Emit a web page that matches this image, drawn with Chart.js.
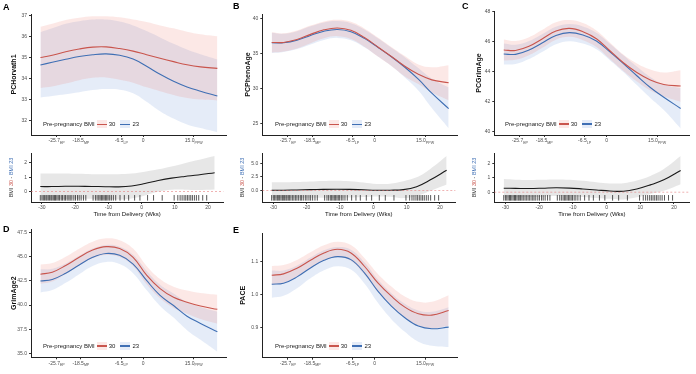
<!DOCTYPE html>
<html lang="en">
<head>
<meta charset="UTF-8" />
<title>Epigenetic age trajectories by pre-pregnancy BMI</title>
<script src="https://cdn.jsdelivr.net/npm/chart.js"></script>
<style>
  body { margin: 0; background: #fff; font-family: "Liberation Sans", Arial, sans-serif; }
  #fig { position: relative; width: 696px; height: 374px; overflow: hidden; }
  canvas { position: absolute; }
  .tag { position: absolute; font-weight: bold; font-size: 9px; line-height: 10px; color: #000; z-index: 3; }
  .legend { position: absolute; height: 8px; font-size: 6px; color: #222; display: flex; align-items: center; white-space: nowrap; z-index: 3; }
  .key { display: inline-block; width: 10px; height: 8px; position: relative; margin: 0 2px 0 2px; }
  .key::after { content: ''; position: absolute; left: 0; right: 0; top: 3.4px; height: 1.2px; background: currentColor; }
</style>
</head>
<body>
<div id="fig">
  <canvas id="cA" width="228" height="148" style="left:0;top:0"></canvas>
  <canvas id="cB" width="230" height="148" style="left:230px;top:0"></canvas>
  <canvas id="cC" width="236" height="148" style="left:460px;top:0"></canvas>
  <canvas id="dA" width="228" height="74" style="left:0;top:148px"></canvas>
  <canvas id="dB" width="230" height="74" style="left:230px;top:148px"></canvas>
  <canvas id="dC" width="236" height="74" style="left:460px;top:148px"></canvas>
  <canvas id="cD" width="228" height="159" style="left:0;top:215px"></canvas>
  <canvas id="cE" width="230" height="159" style="left:230px;top:215px"></canvas>
  <div class="tag" style="left:3px;top:2px">A</div>
  <div class="tag" style="left:233px;top:1px">B</div>
  <div class="tag" style="left:462px;top:1px">C</div>
  <div class="tag" style="left:3px;top:224px">D</div>
  <div class="tag" style="left:233px;top:225px">E</div>
</div>

<script>
// weeks from delivery where the fitted curves are read
const weeks = [-30.5, -27, -23, -19, -15, -11, -7, -3, 1, 5, 9, 13, 17, 22];
const xMin = -33.3, xMax = 24.6;

// pregnancy stage ticks on the upper panels
const stageTicks = [-25.7, -18.5, -6.5, 0, 15.0];
const stageLabels = ['-25.7', '-18.5', '-6.5', '0', '15.0'];
const stageSubs = ['EP', 'MP', 'LP', '', 'PPW'];
const weekTicks = [-30, -20, -10, 0, 10, 20];

// sample times (rug)
const rugWeeks = [-30.5, -30, -29.6, -29.2, -28.8, -28.5, -28.1, -27.7, -27.3, -27, -26.6, -26.2, -25.9, -25.5,
  -25.1, -24.7, -24.2, -23.8, -23.3, -22.9, -22.4, -21.9, -21.5, -21, -20.4, -19.9, -19.3, -18.8, -18.2, -17.5,
  -16.8, -14.6, -13.9, -13.4, -12.9, -12.5, -12.1, -11.7, -11.3, -10.9, -10.5, -10.1, -9.6, -9.1, -8.5, -7.8,
  -6.5, -5.2, -3.9, -2.1, -0.5, 1.8, 3.6, 6.2, 9.8, 10.9, 11.6, 12.2, 12.8, 13.3, 13.8, 14.3, 14.8, 15.3,
  15.9, 16.5, 17.2, 18.4, 19.6];

// A: PCHorvath1
const horTicks = [32, 33, 34, 35, 36, 37];
const hor30   = [35.00, 35.10, 35.27, 35.40, 35.49, 35.50, 35.42, 35.30, 35.13, 34.96, 34.80, 34.65, 34.55, 34.48];
const hor30Hi = [36.45, 36.60, 36.78, 36.88, 36.95, 36.95, 36.90, 36.80, 36.68, 36.52, 36.38, 36.22, 36.10, 36.00];
const hor30Lo = [33.55, 33.62, 33.76, 33.92, 34.03, 34.05, 33.94, 33.80, 33.58, 33.40, 33.22, 33.08, 33.00, 32.96];
const hor23   = [34.64, 34.77, 34.91, 35.04, 35.13, 35.17, 35.10, 34.92, 34.58, 34.20, 33.87, 33.60, 33.40, 33.17];
const hor23Hi = [36.20, 36.38, 36.60, 36.72, 36.80, 36.80, 36.70, 36.52, 36.25, 35.95, 35.65, 35.38, 35.15, 34.90];
const hor23Lo = [33.10, 33.17, 33.25, 33.35, 33.45, 33.50, 33.47, 33.30, 32.90, 32.45, 32.10, 31.82, 31.65, 31.45];
const horDiffTicks = [0, 1, 2];
const horDiff   = [0.34, 0.34, 0.36, 0.36, 0.35, 0.33, 0.32, 0.38, 0.55, 0.76, 0.93, 1.05, 1.15, 1.31];
const horDiffHi = [1.26, 1.26, 1.25, 1.23, 1.21, 1.20, 1.20, 1.25, 1.38, 1.55, 1.75, 1.98, 2.20, 2.48];
const horDiffLo = [-0.58, -0.58, -0.53, -0.51, -0.51, -0.54, -0.56, -0.49, -0.28, -0.03, 0.11, 0.12, 0.10, 0.14];

// B: PCPhenoAge
const pheTicks = [25, 30, 35, 40];
const phe30   = [36.55, 36.55, 36.97, 37.70, 38.35, 38.62, 38.28, 37.25, 35.90, 34.55, 33.15, 32.00, 31.20, 30.80];
const phe30Hi = [38.00, 37.85, 38.25, 38.95, 39.55, 39.80, 39.50, 38.55, 37.25, 35.90, 34.60, 33.40, 33.00, 33.30];
const phe30Lo = [35.10, 35.25, 35.70, 36.45, 37.15, 37.45, 37.05, 35.95, 34.55, 33.20, 31.70, 30.60, 29.40, 28.30];
const phe23   = [36.50, 36.50, 36.87, 37.55, 38.15, 38.40, 38.08, 37.13, 35.85, 34.50, 33.00, 31.30, 29.30, 27.10];
const phe23Hi = [37.95, 37.80, 38.15, 38.85, 39.40, 39.60, 39.30, 38.40, 37.15, 35.80, 34.45, 32.90, 31.40, 30.10];
const phe23Lo = [35.05, 35.20, 35.60, 36.25, 36.90, 37.20, 36.85, 35.85, 34.55, 33.20, 31.55, 29.70, 27.20, 24.30];
const pheDiffTicks = [0, 2.5, 5];
const pheDiff   = [0.05, 0.05, 0.10, 0.15, 0.20, 0.22, 0.20, 0.12, 0.05, 0.05, 0.15, 0.70, 1.90, 3.70];
const pheDiffHi = [1.50, 1.50, 1.55, 1.65, 1.75, 1.80, 1.70, 1.45, 1.20, 1.25, 1.70, 2.40, 3.90, 6.30];
const pheDiffLo = [-1.40, -1.40, -1.35, -1.35, -1.35, -1.36, -1.30, -1.20, -1.10, -1.15, -1.40, -1.00, -0.10, 1.10];

// C: PCGrimAge
const grmTicks = [40, 42, 44, 46, 48];
const grm30   = [45.45, 45.42, 45.70, 46.20, 46.72, 46.89, 46.67, 46.20, 45.40, 44.60, 43.95, 43.45, 43.15, 43.05];
const grm30Hi = [46.15, 46.05, 46.30, 46.80, 47.30, 47.45, 47.25, 46.75, 45.95, 45.15, 44.55, 44.15, 43.95, 44.10];
const grm30Lo = [44.75, 44.80, 45.10, 45.60, 46.14, 46.33, 46.10, 45.65, 44.85, 44.05, 43.35, 42.75, 42.35, 42.00];
const grm23   = [45.18, 45.16, 45.45, 45.93, 46.42, 46.61, 46.45, 46.05, 45.32, 44.54, 43.73, 42.95, 42.30, 41.55];
const grm23Hi = [45.88, 45.80, 46.05, 46.52, 47.00, 47.18, 47.02, 46.60, 45.87, 45.10, 44.35, 43.65, 43.15, 42.90];
const grm23Lo = [44.48, 44.52, 44.85, 45.34, 45.84, 46.04, 45.88, 45.50, 44.77, 43.98, 43.11, 42.25, 41.45, 40.22];
const grmDiffTicks = [0, 1, 2];
const grmDiff   = [0.27, 0.26, 0.25, 0.27, 0.30, 0.28, 0.22, 0.15, 0.08, 0.06, 0.22, 0.50, 0.85, 1.50];
const grmDiffHi = [0.90, 0.86, 0.84, 0.85, 0.87, 0.85, 0.78, 0.68, 0.60, 0.62, 0.80, 1.12, 1.60, 2.50];
const grmDiffLo = [-0.38, -0.36, -0.34, -0.31, -0.27, -0.29, -0.34, -0.40, -0.46, -0.50, -0.36, -0.12, 0.10, 0.55];

// D: GrimAge2
const g2Ticks = [35, 37.5, 40, 42.5, 45, 47.5];
const g2_30   = [43.20, 43.40, 44.10, 44.95, 45.70, 46.05, 45.85, 44.95, 43.10, 41.70, 40.80, 40.30, 39.90, 39.56];
const g2_30Hi = [44.20, 44.35, 45.00, 45.83, 46.56, 46.91, 46.72, 45.85, 44.05, 42.70, 41.90, 41.50, 41.25, 41.06];
const g2_30Lo = [42.20, 42.45, 43.20, 44.07, 44.84, 45.19, 44.98, 44.05, 42.15, 40.70, 39.70, 39.10, 38.55, 38.06];
const g2_23   = [42.50, 42.65, 43.30, 44.15, 44.95, 45.35, 45.15, 44.25, 42.55, 41.00, 39.95, 38.85, 38.10, 37.24];
const g2_23Hi = [43.70, 43.75, 44.30, 45.10, 45.85, 46.23, 46.05, 45.20, 43.55, 42.10, 41.20, 40.30, 39.80, 39.31];
const g2_23Lo = [41.30, 41.55, 42.30, 43.20, 44.05, 44.47, 44.25, 43.30, 41.55, 39.90, 38.70, 37.40, 36.40, 35.17];

// E: PACE
const paceTicks = [0.9, 1.0, 1.1];
const pace30   = [1.058, 1.062, 1.079, 1.103, 1.125, 1.136, 1.125, 1.085, 1.035, 0.995, 0.962, 0.942, 0.938, 0.952];
const pace30Hi = [1.086, 1.089, 1.104, 1.127, 1.148, 1.159, 1.149, 1.110, 1.062, 1.024, 0.994, 0.978, 0.978, 0.998];
const pace30Lo = [1.030, 1.035, 1.054, 1.079, 1.102, 1.113, 1.101, 1.060, 1.008, 0.966, 0.930, 0.906, 0.898, 0.906];
const pace23   = [1.031, 1.034, 1.053, 1.080, 1.103, 1.114, 1.105, 1.065, 1.010, 0.965, 0.930, 0.905, 0.897, 0.902];
const pace23Hi = [1.072, 1.072, 1.087, 1.111, 1.133, 1.143, 1.135, 1.097, 1.045, 1.004, 0.972, 0.952, 0.948, 0.962];
const pace23Lo = [0.990, 0.996, 1.019, 1.049, 1.073, 1.085, 1.075, 1.033, 0.975, 0.926, 0.888, 0.858, 0.846, 0.842];

Chart.defaults.font.family = '"Liberation Sans", Arial, sans-serif';
Chart.defaults.color = '#4d4d4d';

const RED = '#c9554d', BLUE = '#3f6fb4';
const RED_FILL = 'rgba(235,110,100,0.16)', BLUE_FILL = 'rgba(100,145,215,0.17)';
const PLOT_W = (xMax - xMin) * 3.37;

function pts(ys) { return weeks.map((w, i) => ({ x: w, y: ys[i] })); }

function band(hi, lo, color) {
  return [
    { data: pts(hi), borderWidth: 0, borderColor: 'transparent', backgroundColor: color, fill: '+1', order: 2 },
    { data: pts(lo), borderWidth: 0, borderColor: 'transparent', fill: false, order: 2 }
  ];
}
function curve(ys, color, w) {
  return { data: pts(ys), borderColor: color, borderWidth: w || 1.1, fill: false, order: 1 };
}

function yAxis(p) {
  return {
    type: 'linear', min: p.yMin, max: p.yMax,
    afterBuildTicks: s => { s.ticks = p.yTicks.map(v => ({ value: v })); },
    afterFit: s => { s.width = p.axisW; },
    ticks: { font: { size: 5 }, padding: 2, callback: v => Number(v).toFixed(p.dec) },
    grid: { drawOnChartArea: false, tickLength: 2, color: '#333' },
    border: { color: '#222', width: 1 },
    title: p.title
      ? { display: true, text: p.title, color: '#111', font: { size: 7, weight: 'bold' }, padding: { top: p.titleX - 4.2, bottom: 0 } }
      : { display: false }
  };
}

function xAxis(ticks, withLabels, h) {
  return {
    type: 'linear', min: xMin, max: xMax,
    afterBuildTicks: s => { s.ticks = ticks.map(v => ({ value: v })); },
    afterFit: s => { s.height = h; },
    ticks: { display: withLabels, font: { size: 5 }, padding: 1, autoSkip: false, maxRotation: 0 },
    grid: { drawOnChartArea: false, tickLength: 2, color: '#333' },
    border: { color: '#222', width: 1 },
    title: withLabels
      ? { display: true, text: 'Time from Delivery (Wks)', color: '#111', font: { size: 6 }, padding: { top: 0, bottom: 4 } }
      : { display: false }
  };
}

// stage tick labels with subscripts
const stagePlugin = {
  id: 'stageLabels',
  afterDraw(chart) {
    const sx = chart.scales.x, ctx = chart.ctx;
    const fam = '"Liberation Sans", Arial, sans-serif';
    ctx.save();
    ctx.fillStyle = '#4d4d4d';
    ctx.textBaseline = 'middle';
    ctx.textAlign = 'left';
    stageTicks.forEach((v, i) => {
      const x = sx.getPixelForValue(v), y = sx.top + 6;
      ctx.font = '5px ' + fam;
      const mw = ctx.measureText(stageLabels[i]).width;
      ctx.font = '3.6px ' + fam;
      const sw = ctx.measureText(stageSubs[i]).width;
      const x0 = x - (mw + sw) / 2;
      ctx.font = '5px ' + fam;
      ctx.fillText(stageLabels[i], x0, y);
      ctx.font = '3.6px ' + fam;
      ctx.fillText(stageSubs[i], x0 + mw, y + 1.6);
    });
    ctx.restore();
  }
};

// zero reference line and coloured y title on the difference panels
const diffPlugin = {
  id: 'diffDecor',
  afterDatasetsDraw(chart) {
    const { ctx, chartArea: a, scales: { y } } = chart;
    const py = y.getPixelForValue(0);
    ctx.save();
    ctx.strokeStyle = 'rgba(225,110,110,0.75)';
    ctx.lineWidth = 0.7;
    ctx.setLineDash([2, 2]);
    ctx.beginPath();
    ctx.moveTo(a.left, py);
    ctx.lineTo(a.right, py);
    ctx.stroke();
    ctx.restore();
  },
  afterDraw(chart) {
    const { ctx, chartArea: a } = chart;
    const parts = [['BMI ', '#333'], ['30', RED], [' - ', '#333'], ['BMI 23', BLUE]];
    ctx.save();
    ctx.font = '5.5px "Liberation Sans", Arial, sans-serif';
    ctx.textBaseline = 'middle';
    ctx.textAlign = 'left';
    const total = parts.reduce((s, p) => s + ctx.measureText(p[0]).width, 0);
    ctx.translate(a.left - 19.8, (a.top + a.bottom) / 2);
    ctx.rotate(-Math.PI / 2);
    let x = -total / 2;
    parts.forEach(([t, c]) => { ctx.fillStyle = c; ctx.fillText(t, x, 0); x += ctx.measureText(t).width; });
    ctx.restore();
  }
};

function common(p, canvasW) {
  return {
    responsive: false, animation: false, events: [], devicePixelRatio: 1,
    layout: { padding: { top: p.padTop, right: canvasW - p.axisW - PLOT_W, left: 0, bottom: 0 } },
    elements: { line: { tension: 0.4 }, point: { radius: 0 } },
    plugins: { legend: { display: false }, tooltip: { enabled: false } }
  };
}

function drawTrend(p) {
  const cv = document.getElementById(p.id);
  const opts = common(p, cv.width);
  opts.scales = { x: xAxis(stageTicks, false, p.xH), y: yAxis(p) };
  new Chart(cv, {
    type: 'line',
    data: {
      datasets: [
        ...band(p.hi30, p.lo30, RED_FILL),
        ...band(p.hi23, p.lo23, BLUE_FILL),
        curve(p.s30, RED),
        curve(p.s23, BLUE)
      ]
    },
    options: opts,
    plugins: [stagePlugin]
  });
  addLegend(cv, p.legend[0], p.legend[1]);
}

function drawDiff(p) {
  const cv = document.getElementById(p.id);
  const opts = common(p, cv.width);
  opts.scales = { x: xAxis(weekTicks, true, 20), y: yAxis(p) };
  const rugY = p.yMin + (p.yMax - p.yMin) * 0.085;
  new Chart(cv, {
    type: 'line',
    data: {
      datasets: [
        ...band(p.hi, p.lo, 'rgba(185,185,185,0.35)'),
        curve(p.diff, '#1a1a1a', 1.1),
        { type: 'scatter', data: rugWeeks.map(w => ({ x: w, y: rugY })), pointStyle: 'line', rotation: 90,
          pointRadius: 2.8, borderColor: '#111', borderWidth: 0.7, showLine: false, order: 0 }
      ]
    },
    options: opts,
    plugins: [diffPlugin]
  });
}

function addLegend(cv, dx, cy) {
  const fig = document.getElementById('fig');
  const left = parseFloat(cv.style.left) || 0, top = parseFloat(cv.style.top) || 0;
  const d = document.createElement('div');
  d.className = 'legend';
  d.style.left = (left + dx) + 'px';
  d.style.top = (top + cy - 4) + 'px';
  d.innerHTML = 'Pre-pregnancy BMI' +
    '<span class="key" style="background:' + RED_FILL + ';color:' + RED + ';margin-left:2px"></span>30' +
    '<span class="key" style="background:' + BLUE_FILL + ';color:' + BLUE + ';margin-left:5px"></span>23';
  fig.appendChild(d);
}

drawTrend({ id: 'cA', title: 'PCHorvath1', titleX: 14, axisW: 31, padTop: 14, xH: 13, yMin: 31.32, yMax: 37.06,
  yTicks: horTicks, dec: 0, s30: hor30, hi30: hor30Hi, lo30: hor30Lo, s23: hor23, hi23: hor23Hi, lo23: hor23Lo, legend: [43, 124.3] });
drawTrend({ id: 'cB', title: 'PCPhenoAge', titleX: 18, axisW: 32.3, padTop: 14, xH: 13, yMin: 23.33, yMax: 40.61,
  yTicks: pheTicks, dec: 0, s30: phe30, hi30: phe30Hi, lo30: phe30Lo, s23: phe23, hi23: phe23Hi, lo23: phe23Lo, legend: [45, 124.3] });
drawTrend({ id: 'cC', title: 'PCGrimAge', titleX: 19.3, axisW: 34.3, padTop: 11, xH: 13, yMin: 39.78, yMax: 48.05,
  yTicks: grmTicks, dec: 0, s30: grm30, hi30: grm30Hi, lo30: grm30Lo, s23: grm23, hi23: grm23Hi, lo23: grm23Lo, legend: [45, 124] });
drawTrend({ id: 'cD', title: 'GrimAge2', titleX: 14, axisW: 31, padTop: 14, xH: 16.7, yMin: 34.59, yMax: 47.88,
  yTicks: g2Ticks, dec: 1, s30: g2_30, hi30: g2_30Hi, lo30: g2_30Lo, s23: g2_23, hi23: g2_23Hi, lo23: g2_23Lo, legend: [43, 131] });
drawTrend({ id: 'cE', title: 'PACE', titleX: 12.7, axisW: 32.3, padTop: 18, xH: 16.3, yMin: 0.81, yMax: 1.185,
  yTicks: paceTicks, dec: 1, s30: pace30, hi30: pace30Hi, lo30: pace30Lo, s23: pace23, hi23: pace23Hi, lo23: pace23Lo, legend: [45, 131] });

drawDiff({ id: 'dA', axisW: 31, padTop: 4, yMin: -0.74, yMax: 2.69, yTicks: horDiffTicks, dec: 0, diff: horDiff, hi: horDiffHi, lo: horDiffLo });
drawDiff({ id: 'dB', axisW: 32.3, padTop: 4, yMin: -2.11, yMax: 6.86, yTicks: pheDiffTicks, dec: 1, diff: pheDiff, hi: pheDiffHi, lo: pheDiffLo });
drawDiff({ id: 'dC', axisW: 34.3, padTop: 4, yMin: -0.68, yMax: 2.7, yTicks: grmDiffTicks, dec: 0, diff: grmDiff, hi: grmDiffHi, lo: grmDiffLo });
</script>
</body>
</html>
